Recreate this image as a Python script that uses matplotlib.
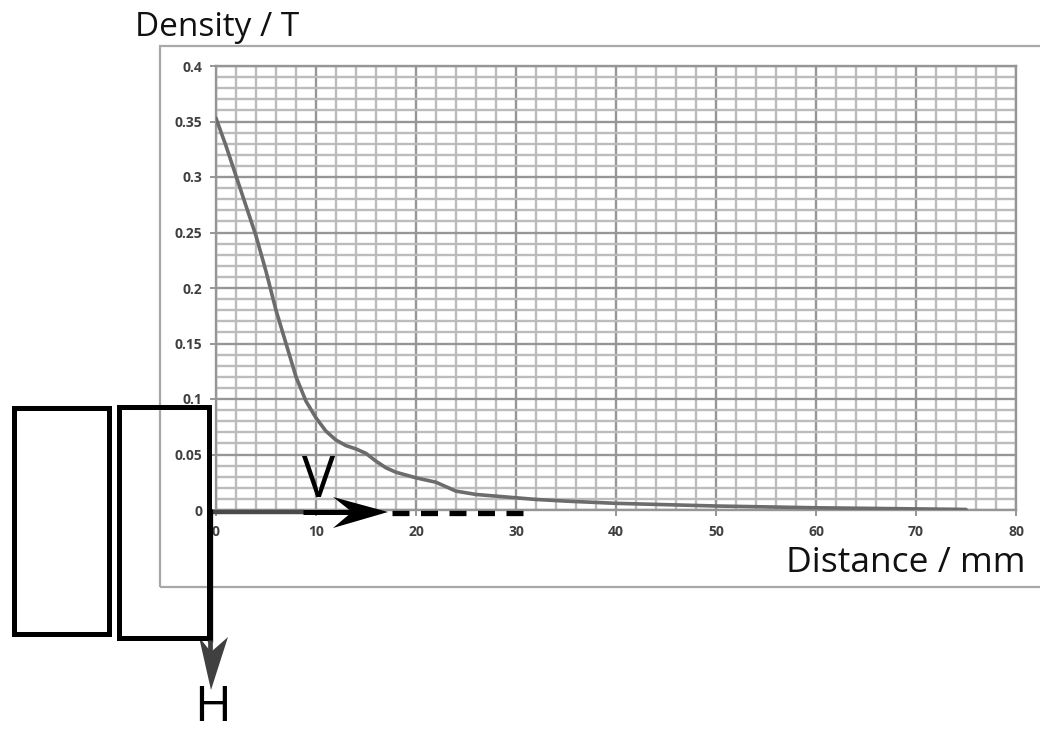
import numpy as np
import matplotlib
matplotlib.use('Agg')
from matplotlib import pyplot as plt
from matplotlib.patches import Rectangle, Polygon
from matplotlib.ticker import MultipleLocator

# field density measured along the distance from the magnet face
distance = [0, 1, 2, 3, 4, 5, 6, 7, 8, 9, 10, 11, 12, 13, 14, 15, 16, 17, 18,
            20, 22, 23, 24, 26, 28, 30, 32, 35, 40, 45, 50, 55, 60, 65, 70, 75]
density = [0.353, 0.328, 0.301, 0.274, 0.247, 0.215, 0.180, 0.150, 0.120, 0.098,
           0.083, 0.071, 0.063, 0.058, 0.055, 0.051, 0.044, 0.038, 0.034,
           0.029, 0.025, 0.021, 0.017, 0.014, 0.0125, 0.011, 0.0095, 0.008,
           0.006, 0.0048, 0.0036, 0.0028, 0.002, 0.0015, 0.001, 0.0005]

x_ticks = [0, 10, 20, 30, 40, 50, 60, 70, 80]
y_ticks = [0, 0.05, 0.1, 0.15, 0.2, 0.25, 0.3, 0.35, 0.4]
y_labels = ['0', '0.05', '0.1', '0.15', '0.2', '0.25', '0.3', '0.35', '0.4']

W, H = 1040, 734
fig = plt.figure(figsize=(W / 100, H / 100), dpi=100)
fig.patch.set_facecolor('white')

# outer chart frame
fig.patches.append(Rectangle((160 / W, 1 - 587 / H), 0.9, (587 - 46) / H,
                             transform=fig.transFigure, fill=False,
                             edgecolor='#a8a8a8', lw=1.6, zorder=0))

ax = fig.add_axes([216 / W, 1 - 510 / H, 800 / W, 444 / H])
ax.set_xlim(0, 80)
ax.set_ylim(0, 0.4)
ax.xaxis.set_major_locator(MultipleLocator(10))
ax.xaxis.set_minor_locator(MultipleLocator(2))
ax.yaxis.set_major_locator(MultipleLocator(0.05))
ax.yaxis.set_minor_locator(MultipleLocator(0.01))
ax.grid(which='minor', color='#bcbcbc', lw=1.7)
ax.grid(which='major', color='#969696', lw=1.7)
ax.set_axisbelow(True)
for side in ['top', 'right', 'left', 'bottom']:
    ax.spines[side].set_color('#969696')
    ax.spines[side].set_linewidth(1.7)

ax.set_xticks(x_ticks)
ax.set_yticks(y_ticks)
ax.set_yticklabels(y_labels)
ax.tick_params(which='major', length=4, width=1.4, color='#969696',
               labelsize=10, labelcolor='#404040')
ax.tick_params(axis='x', pad=7)
ax.tick_params(axis='y', pad=6)
ax.tick_params(which='minor', length=0)
for lab in ax.get_xticklabels() + ax.get_yticklabels():
    lab.set_fontweight('bold')
    lab.set_fontfamily('Open Sans')

ax.plot(distance, density, color='#6c6c6c', lw=2.6, solid_capstyle='round',
        solid_joinstyle='round', zorder=3)

fig.text(135 / W, 1 - 36 / H, 'Density / T', fontsize=24, family='Open Sans',
         va='baseline', ha='left', color='#111111')
fig.text(1025 / W, 1 - 572 / H, 'Distance / mm', fontsize=25.5, family='Open Sans',
         va='baseline', ha='right', color='#111111')

# overlay in pixel coordinates for the direction sketch
ov = fig.add_axes([0, 0, 1, 1], zorder=10)
ov.set_xlim(0, W)
ov.set_ylim(H, 0)
ov.axis('off')
ov.patch.set_alpha(0)

# V direction: shaft, head and dashed continuation
ov.plot([212, 304], [512, 512], color='#4a4a4a', lw=3.2, solid_capstyle='butt')
ov.plot([303, 360], [512, 512], color='black', lw=3.6, solid_capstyle='butt')
ov.add_patch(Polygon([(388, 512), (333, 497), (352, 512), (333, 528)],
                     closed=True, color='black', lw=0))
ov.plot([392, 523], [513, 513], color='black', lw=3.8, dashes=(3.22, 2.18),
        solid_capstyle='butt')
ov.text(319, 497, 'V', fontsize=40, family='Open Sans', ha='center',
        va='baseline', color='black')

# H direction: shaft and head below the plates
ov.plot([210, 210], [509, 642], color='black', lw=3.8, solid_capstyle='butt')
ov.plot([210, 210], [640, 665], color='#404040', lw=3.4, solid_capstyle='butt')
ov.add_patch(Polygon([(211, 690), (199, 637), (211, 652), (228, 637)],
                     closed=True, color='#404040', lw=0))
ov.text(213, 733, 'H', fontsize=36, family='Open Sans', ha='center',
        va='bottom', color='black')

# the two plates
ov.add_patch(Rectangle((13.5, 407.5), 95, 226, fill=False, edgecolor='black', lw=3.6))
ov.add_patch(Rectangle((118.5, 406.5), 90, 231, fill=False, edgecolor='black', lw=3.6))

fig.savefig('out.png', dpi=100)
